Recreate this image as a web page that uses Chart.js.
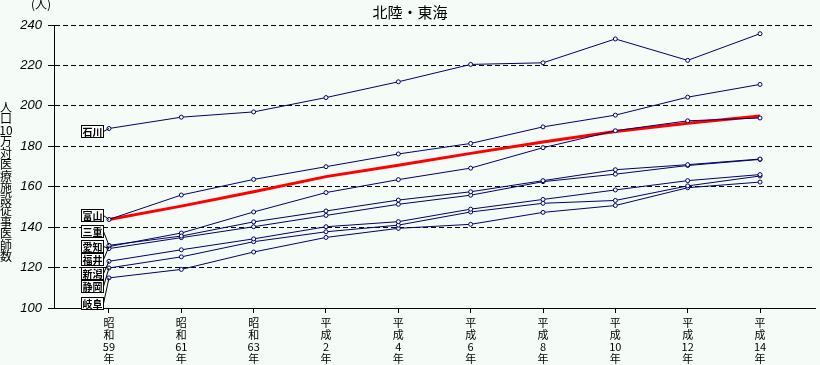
<!DOCTYPE html>
<html lang="ja">
<head>
<meta charset="utf-8">
<title>北陸・東海</title>
<script src="https://cdn.jsdelivr.net/npm/chart.js@4"></script>
<style>
  html, body { margin: 0; padding: 0; background: #f5fbf7; }
  #wrap { width: 820px; height: 365px; }
</style>
</head>
<body>
<div id="wrap"><canvas id="chart" width="820" height="365"></canvas></div>
<script>
const title = '北陸・東海';
const unit = '(人)';
const yTitle = ['人', '口', '10', '万', '対', '医', '療', '施', '設', '従', '事', '医', '師', '数'];
const years = [
    ['昭', '和', '59', '年'], ['昭', '和', '61', '年'], ['昭', '和', '63', '年'],
    ['平', '成', '2', '年'], ['平', '成', '4', '年'], ['平', '成', '6', '年'],
    ['平', '成', '8', '年'], ['平', '成', '10', '年'], ['平', '成', '12', '年'],
    ['平', '成', '14', '年']
];
const yTicks = [100, 120, 140, 160, 180, 200, 220, 240];

const prefs = ['石川', '富山', '三重', '愛知', '福井', '新潟', '静岡', '岐阜'];
const ishikawa = [188.8, 194.4, 197.0, 204.1, 211.9, 220.5, 221.3, 233.1, 222.5, 235.7];
const toyama   = [143.8, 155.9, 163.6, 169.9, 176.2, 181.4, 189.6, 195.4, 204.3, 210.6];
const mie      = [131.0, 135.6, 142.6, 148.0, 153.4, 157.5, 163.0, 168.4, 170.9, 173.7];
const aichi    = [129.4, 134.8, 140.2, 145.8, 151.3, 155.8, 162.5, 166.2, 170.5, 173.5];
const fukui    = [130.4, 137.1, 147.5, 157.1, 163.5, 169.2, 179.3, 187.7, 192.6, 194.0];
const niigata  = [123.1, 128.8, 134.2, 140.2, 142.7, 148.9, 153.7, 158.4, 163.0, 166.0];
const shizuoka = [119.8, 125.3, 132.8, 137.7, 141.0, 147.5, 151.8, 153.2, 160.4, 165.3];
const gifu     = [114.9, 119.1, 127.7, 134.9, 139.4, 141.4, 147.3, 150.7, 159.5, 162.3];
const redLine  = [143.8, 150.4, 157.5, 165.0, 170.6, 176.5, 182.1, 187.3, 191.4, 195.0];

const series = [ishikawa, toyama, mie, aichi, fukui, niigata, shizuoka, gifu];

const BG = '#f5fbf7';
const NAVY = '#000066';
const JP = '"Noto Sans CJK JP", sans-serif';

const toPoints = arr => arr.map((v, i) => ({ x: i, y: v }));

const datasets = series.map((arr, i) => ({
    label: prefs[i],
    data: toPoints(arr),
    borderColor: NAVY,
    borderWidth: 1,
    pointRadius: 2,
    pointBorderWidth: 1,
    pointBorderColor: NAVY,
    pointBackgroundColor: BG,
    tension: 0
}));
datasets.push({
    label: 'red',
    data: toPoints(redLine),
    borderColor: '#ff0000',
    borderWidth: 3,
    pointRadius: 0,
    tension: 0
});

// text, label boxes and leader lines
const decor = {
    id: 'decor',
    afterDraw(chart) {
        const ctx = chart.ctx;
        const xs = chart.scales.x, ys = chart.scales.y;
        ctx.save();
        ctx.fillStyle = '#000';
        ctx.textAlign = 'center';
        ctx.textBaseline = 'middle';
        ctx.font = '15px ' + JP;
        ctx.fillText(title, 410, 12);
        ctx.font = '12px ' + JP;
        ctx.fillText(unit, 41, 4);
        yTitle.forEach((ch, i) => ctx.fillText(ch, 6, 107 + i * 11.5));

        const boxY = [131, 215, 231, 245.5, 258.5, 273, 286, 302.5];
        ctx.font = 'bold 10px ' + JP;
        ctx.strokeStyle = '#000';
        ctx.lineWidth = 1;
        prefs.forEach((name, i) => {
            const cy = Math.round(boxY[i]);
            const px = xs.getPixelForValue(0);
            const py = ys.getPixelForValue(series[i][0]);
            ctx.beginPath();
            ctx.moveTo(103.5, cy + 0.5);
            ctx.lineTo(px, py);
            ctx.stroke();
            ctx.fillStyle = '#fff';
            ctx.fillRect(81.5, cy - 5.5, 22, 12);
            ctx.strokeRect(81.5, cy - 5.5, 22, 12);
            ctx.fillStyle = '#000';
            ctx.fillText(name, 92.5, cy + 1);
        });
        ctx.restore();
    }
};

new Chart(document.getElementById('chart').getContext('2d'), {
    type: 'line',
    data: { datasets: datasets },
    options: {
        responsive: false,
        animation: false,
        layout: { padding: { top: 25, left: 0, right: 0, bottom: 0 } },
        plugins: { legend: { display: false }, tooltip: { enabled: false } },
        scales: {
            x: {
                type: 'linear',
                min: -0.76,
                max: 9.76,
                afterBuildTicks: s => { s.ticks = years.map((_, i) => ({ value: i })); },
                afterFit: s => { s.height = 57; },
                grid: { drawOnChartArea: false, tickLength: 5, tickColor: '#000', color: '#000' },
                border: { color: '#000', width: 1 },
                ticks: {
                    autoSkip: false,
                    maxRotation: 0,
                    padding: 4,
                    color: '#000',
                    font: { family: JP, size: 11, lineHeight: 1.09 },
                    callback: v => years[v]
                }
            },
            y: {
                min: 100,
                max: 240,
                afterBuildTicks: s => { s.ticks = yTicks.map(v => ({ value: v })); },
                afterFit: s => { s.width = 54; },
                grid: { color: '#000', tickColor: '#000', tickLength: 6, tickBorderDash: [] },
                border: { color: '#000', width: 1, dash: [5, 3] },
                ticks: {
                    padding: 6,
                    color: '#000',
                    font: { family: 'Liberation Sans', size: 13, style: 'italic' }
                }
            }
        }
    },
    plugins: [decor]
});
</script>
</body>
</html>
